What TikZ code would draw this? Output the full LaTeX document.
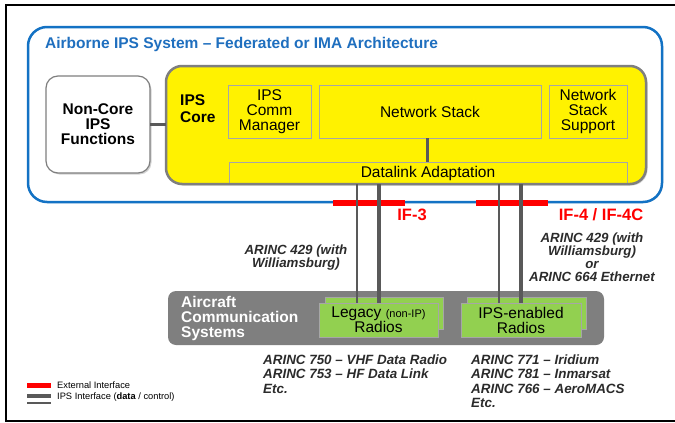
\documentclass[tikz,border=0pt]{standalone}
\usepackage{fontspec}
\setmainfont{Liberation Sans}
\usetikzlibrary{shadows}
\definecolor{sysblue}{HTML}{1372C4}
\definecolor{titleblue}{HTML}{1F6FBF}
\definecolor{coregray}{HTML}{7F7F7F}
\definecolor{thingray}{HTML}{A6A6A6}
\definecolor{linkgray}{HTML}{595959}
\definecolor{radiogreen}{HTML}{92D050}
\definecolor{ifred}{HTML}{FF0000}
\definecolor{txtdark}{HTML}{2B2B2B}
\newcommand\fsz[2]{\fontsize{#1}{#2}\selectfont}
\begin{document}
\begin{tikzpicture}[x=1pt,y=-1pt,
  myshadow/.style={drop shadow={shadow xshift=1.5pt,shadow yshift=-1.5pt,opacity=0.35}},
  sysbox/.style={draw=sysblue,line width=2.5pt,fill=white,rounded corners=19pt,inner sep=0pt,outer sep=0pt,
     drop shadow={shadow xshift=1pt,shadow yshift=-1pt,opacity=0.3}},
  corefill/.style={fill=yellow,rounded corners=16pt,inner sep=0pt,outer sep=0pt,myshadow},
  coreline/.style={draw=coregray,line width=2.5pt,rounded corners=16pt,inner sep=0pt,outer sep=0pt},
  inbox/.style={draw=thingray,line width=1pt,fill=yellow,inner sep=0pt,outer sep=0pt,align=center,
     font=\fsz{15.5}{15},drop shadow={shadow xshift=1pt,shadow yshift=-1pt,opacity=0.3}},
  conn/.style={draw=linkgray,line width=3pt},
  thinlink/.style={draw=linkgray,line width=2.5pt},
  thicklink/.style={draw=linkgray,line width=4pt},
  redbar/.style={fill=ifred,inner sep=0pt,outer sep=0pt,minimum height=6pt,minimum width=72pt},
  iflabel/.style={text=ifred,font=\bfseries\fsz{16.5}{17},inner sep=0pt},
  radio/.style={fill=radiogreen,draw=thingray,line width=0.8pt,inner sep=0pt,outer sep=0pt,align=center,
     font=\fsz{15.5}{15}},
  arinc/.style={text=txtdark,font=\bfseries\itshape\fsz{13.3}{13},align=center,inner sep=0pt},
  arincb/.style={text=txtdark,font=\bfseries\itshape\fsz{13.4}{14.5},align=left,inner sep=0pt,anchor=west},
  legtext/.style={font=\fsz{9.3}{10},anchor=west,inner sep=0pt}
]
\useasboundingbox (0,0) rectangle (675,423);
% frame
\draw[line width=2pt] (676,5) -- (6,5) -- (6,421) -- (676,421);

% system box
\node[sysbox,minimum width=634pt,minimum height=175pt] (sys) at (345,114.5) {};
\node[anchor=west,text=titleblue,font=\bfseries\fsz{15.5}{16},inner sep=0pt] (title) at (45,44)
  {Airborne IPS System – Federated or IMA Architecture};

% red external interface bars
\node[redbar] (if3bar) at (369,203) {};
\node[redbar] (if4bar) at (512,203) {};
\node[iflabel] (if3) at (412,215) {IF-3};
\node[iflabel] (if4) at (601,215) {IF-4 / IF-4C};

% aircraft communication systems
\node[fill=coregray,rounded corners=8pt,minimum width=436pt,minimum height=54pt,inner sep=0pt] (acs) at (386,318) {};
\node[anchor=west,text=white,font=\bfseries\fsz{15.5}{15},align=left,inner sep=0pt] (acslabel) at (181,318)
  {Aircraft\\Communication\\Systems};
\node[radio,minimum width=118pt,minimum height=32pt] (legacyback) at (384,313.5) {};
\node[radio,minimum width=119pt,minimum height=34pt] (legacy) at (378.5,320)
  {Legacy {\fsz{11}{12}(non-IP)}\\Radios};
\node[radio,minimum width=119pt,minimum height=32pt] (ipsback) at (526.5,313.5) {};
\node[radio,minimum width=120pt,minimum height=34pt] (ipsradio) at (521,320)
  {IPS-enabled\\Radios};

% core fill
\node[corefill,minimum width=480pt,minimum height=118pt] (core) at (406,125) {};

% link coordinates
\coordinate (l1) at (357,0);
\coordinate (l2) at (379,0);
\coordinate (l3) at (499,0);
\coordinate (l4) at (521,0);

% inner boxes
\node[inbox,minimum width=83pt,minimum height=53pt] (comm) at (269.5,111.5) {IPS\\Comm\\Manager};
\node[inbox,minimum width=222pt,minimum height=53pt] (netstack) at (430,111.5) {Network Stack};
\node[inbox,minimum width=78pt,minimum height=53pt] (support) at (588,111.5) {Network\\Stack\\Support};
\node[inbox,minimum width=398pt,minimum height=22pt] (datalink) at (428,173) {Datalink Adaptation};

% core outline on top
\node[coreline,minimum width=480pt,minimum height=118pt] (coreframe) at (406,125) {};
\node[anchor=west,font=\bfseries\fsz{15.5}{17},align=left,inner sep=0pt] (corelabel) at (180,108.5) {IPS\\Core};

% non-core box
\node[draw=coregray,fill=white,rounded corners=12pt,line width=1.2pt,minimum width=104pt,minimum height=97pt,
  inner sep=0pt,outer sep=0pt,font=\bfseries\fsz{15.5}{15},align=center,myshadow] (noncore) at (98,124.5)
  {Non-Core\\IPS\\Functions};

% connectors
\coordinate (lc) at (427.5,0);
\draw[conn] (noncore.east) -- (noncore.east -| coreframe.west);
\draw[conn] (lc |- datalink.north) -- (lc |- netstack.south);
\draw[thinlink] (l1 |- coreframe.south) -- (l1 |- legacy.north);
\draw[thicklink] (l2 |- coreframe.south) -- (l2 |- legacy.north);
\draw[thinlink] (l3 |- coreframe.south) -- (l3 |- ipsradio.north);
\draw[thicklink] (l4 |- coreframe.south) -- (l4 |- ipsradio.north);

% ARINC labels
\node[arinc] (a429l) at (296,258) {ARINC 429 (with\\Williamsburg)};
\node[arinc] (a429r) at (592,257.5) {ARINC 429 (with\\Williamsburg)\\or\\ARINC 664 Ethernet};
\node[arincb] (legacylist) at (263,374) {ARINC 750 – VHF Data Radio\\ARINC 753 – HF Data Link\\Etc.};
\node[arincb] (ipslist) at (471,381) {ARINC 771 – Iridium\\ARINC 781 – Inmarsat\\ARINC 766 – AeroMACS\\Etc.};

% legend
\node[fill=ifred,inner sep=0pt,minimum width=24pt,minimum height=5pt] (legred) at (39,385) {};
\node[fill=linkgray,inner sep=0pt,minimum width=24pt,minimum height=4.5pt] (leggray) at (39,396) {};
\node[fill=linkgray,inner sep=0pt,minimum width=24pt,minimum height=2.5pt] (leggray2) at (39,403) {};
\node[legtext] (legredtxt) at (57,385) {External Interface};
\node[legtext] (leggraytxt) at (57,397) {IPS Interface (\textbf{data} / control)};
\end{tikzpicture}
\end{document}
